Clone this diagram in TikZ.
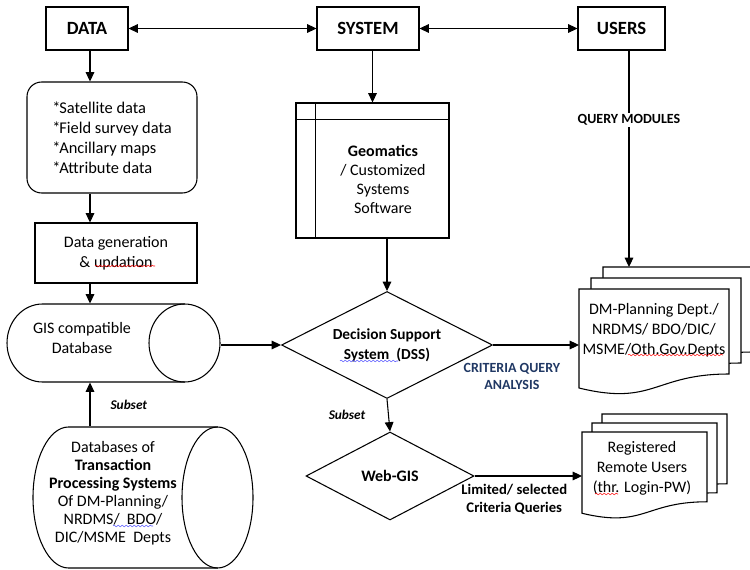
\documentclass[tikz,border=0pt]{standalone}
\usepackage{fontspec}
\setmainfont{Carlito}
\usetikzlibrary{arrows.meta,shapes.geometric,calc,decorations.pathmorphing}

\definecolor{critblue}{RGB}{32,56,100}

% one page of a document symbol: corner x, y, width, height
\newcommand\docpage[4]{%
  \filldraw[fill=white] ({#1},{#2}) -- ({#1+#3},{#2}) -- ({#1+#3},{#2+0.802*#4})
    .. controls ({#1+0.5*#3},{#2+0.802*#4}) and ({#1+0.5*#3},{#2+1.107*#4}) .. ({#1},{#2+0.934*#4}) -- cycle;}
% three stacked pages: front corner x, y, width, height, step x, step y
\newcommand\docstack[6]{%
  \docpage{#1+2*#5}{#2-2*#6}{#3}{#4}
  \docpage{#1+#5}{#2-#6}{#3}{#4}
  \docpage{#1}{#2}{#3}{#4}}
% cylinder lying on its side: left x, right x, centre y, end radius x, radius y
\newcommand\hcyl[5]{%
  \draw ({#2-#4},{#3-#5}) -- ({#1+#4},{#3-#5}) arc (270:90:{#4} and {#5}) -- ({#2-#4},{#3+#5});
  \draw ({#2-#4},{#3}) ellipse ({#4} and {#5});}
\newcommand\itm{*\kern-0.8pt}

\begin{document}
\begin{tikzpicture}[x=0.75pt,y=-0.75pt,line width=0.8pt,
    >={Triangle[length=7pt,width=6.5pt]},
    box/.style={draw,rectangle,inner sep=0pt},
    hdr/.style={box,minimum height=32.25pt,font=\fontsize{14}{16}\selectfont\bfseries},
    txt/.style={align=center,font=\fontsize{12}{15}\selectfont},
    db/.style={rectangle,inner sep=0pt},
    dec/.style={draw,diamond,inner sep=0pt,aspect=2,align=center,
      font=\fontsize{11.5}{15}\selectfont\bfseries},
    lbl/.style={align=center,inner sep=1pt,font=\fontsize{10.5}{13}\selectfont\bfseries},
    sub/.style={inner sep=1pt,font=\fontsize{10}{12}\selectfont\bfseries\itshape},
    squig/.style={draw=#1,line width=0.4pt,decorate,
      decoration={snake,segment length=3pt,amplitude=0.6pt}}]
  \useasboundingbox (0,0) rectangle (750,570);

  \node[hdr,minimum width=61.5pt] (data) at (87,28.5) {DATA};
  \node[hdr,minimum width=76.5pt] (system) at (368,28.5) {SYSTEM};
  \node[hdr,minimum width=65.25pt] (users) at (621.5,28.5) {USERS};

  \node[box,rounded corners=11pt,minimum width=127.5pt,minimum height=83.25pt,
    align=left,font=\fontsize{12.3}{15}\selectfont] (items) at (112,137.5)
    {\itm Satellite data\\\itm Field survey data\\\itm Ancillary maps\\\itm Attribute data};
  \node[box,txt,minimum width=121.5pt,minimum height=45pt] (gen) at (116,253)
    {Data generation\\\& updation};

  \hcyl{7}{220}{343}{35.5}{39}
  \node[db,minimum width=159.75pt,minimum height=58.5pt] (gis) at (113.5,343) {};
  \node[txt] (gistext) at (82,338) {GIS compatible\\Database};
  \hcyl{33}{253}{497.5}{35.5}{70.5}
  \node[db,minimum width=165pt,minimum height=105.75pt] (tps) at (143,497.5) {};
  \node[txt,font=\fontsize{12}{13.5}\selectfont] (tpstext) at (113,493)
    {Databases of\\\textbf{Transaction}\\\textbf{Processing Systems}\\Of DM-Planning/\\NRDMS/~~BDO/\\DIC/MSME~~Depts};

  \node[box,minimum width=114.75pt,minimum height=101.25pt] (geo) at (372.5,170.5) {};
  \draw ($(geo.north west)+(20,0)$) -- ($(geo.south west)+(20,0)$);
  \draw ($(geo.north west)+(0,17)$) -- ($(geo.north east)+(0,17)$);
  \node[txt,font=\fontsize{12}{14.25}\selectfont] (geotext) at (383,179)
    {\textbf{Geomatics}\\/ Customized\\Systems\\Software};

  \node[dec,minimum width=158.25pt,minimum height=80.25pt] (dss) at (387,345)
    {Decision Support\\System~~(DSS)};
  \node[dec,minimum width=126pt,minimum height=66pt,font=\fontsize{12}{15}\selectfont\bfseries] (web) at (390,476)
    {Web-GIS};

  \docstack{579}{289}{150}{106}{12}{11}
  \node[txt] (dmtext) at (654,330) {DM-Planning Dept./\\NRDMS/ BDO/DIC/\\MSME/Oth.Gov.Depts};
  \docstack{582}{432}{125}{87}{10}{9}
  \node[txt] (regtext) at (642,468) {Registered\\Remote Users\\(thr. Login-PW)};

  \coordinate (spine) at (90,0);
  \coordinate (qline) at (629,0);
  \coordinate (dmtop) at (629,267);
  \coordinate (dmin) at (579,345);
  \coordinate (regin) at (582,476);

  \draw[<->] (data) -- (system);
  \draw[<->] (system) -- (users);
  \draw[->] (data.south -| spine) -- (items.north -| spine);
  \draw[->] (items.south -| spine) -- (gen.north -| spine);
  \draw[->] (gen.south -| spine) -- (gis.north -| spine);
  \draw[->] (tps.north -| spine) -- node[right=14pt,sub] {Subset} (gis.south -| spine);
  \draw[->] (system.south -| geo.north) -- (geo.north);
  \draw[->] (geo.south -| dss.north) -- (dss.north);
  \draw[->] (users.south -| qline) -- node[pos=0.32,fill=white,lbl] {QUERY MODULES} (dmtop);
  \draw[->] (gis.east |- dss.west) -- (dss.west);
  \draw[->] (dss.east) -- node[pos=0.22,below=12pt,lbl,text=critblue] {CRITERIA QUERY\\ANALYSIS} (dmin);
  \draw[->] (dss.south) -- node[left=16pt,sub] {Subset} (web.north);
  \draw[->] (web.east) -- node[pos=0.37,below=5pt,lbl,font=\fontsize{11}{13.5}\selectfont\bfseries]
    {Limited/ selected\\Criteria Queries} (regin);

  % spelling marks under some words
  \draw[squig=red] (95,266) -- (155,266);
  \draw[squig=blue!70] (340,361) -- (398,361);
  \draw[squig=red] (628,355) -- (723,355);
  \draw[squig=red] (595,494) -- (618,494);
  \draw[squig=blue!70] (113,526) -- (153,526);
\end{tikzpicture}
\end{document}
